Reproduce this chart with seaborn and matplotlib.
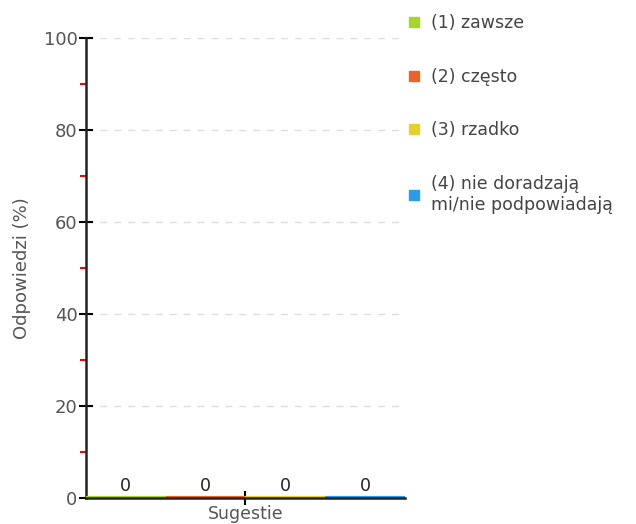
import matplotlib
matplotlib.use('Agg')
import matplotlib.pyplot as plt
import seaborn as sns
import pandas as pd
from matplotlib.ticker import MultipleLocator
from matplotlib.lines import Line2D

# ── Data ─────────────────────────────────────────────
categories = ['(1) zawsze', '(2) często', '(3) rzadko',
              '(4) nie doradzają\nmi/nie podpowiadają']
values = [0, 0, 0, 0]
colors = ['#a8d42a', '#e8622c', '#e6d12c', '#2e9be6']

df = pd.DataFrame({'cat': categories, 'val': values})

sns.set_style('white')
plt.rcParams['font.family'] = ['DejaVu Sans']
TXT = '#555555'

fig = plt.figure(figsize=(6.36, 5.24), dpi=100)
ax = fig.add_axes([0.135, 0.05, 0.502, 0.877])

sns.barplot(data=df, x='cat', y='val', hue='cat', palette=colors,
            width=1.0, dodge=False, legend=False, ax=ax,
            linewidth=3, zorder=3)
for patch, c in zip(ax.patches, colors):
    patch.set_edgecolor(c)

for cont in ax.containers:
    ax.bar_label(cont, fmt='%d', padding=2, fontsize=12.5, color='#222222')

ax.set_xlim(-0.5, 3.5)
ax.set_ylim(0, 100)
ax.yaxis.set_major_locator(MultipleLocator(20))
ax.yaxis.set_minor_locator(MultipleLocator(10))
ax.set_xticks([1.5])
ax.set_xticklabels([''])
ax.tick_params(left=True, bottom=True)
ax.tick_params(axis='y', which='minor', left=True)
ax.tick_params(axis='y', which='major', direction='inout', length=10, width=1.5,
               color='black', labelsize=13, labelcolor=TXT, pad=1)
ax.tick_params(axis='y', which='minor', direction='out', length=4, width=1.5,
               color='red')
ax.tick_params(axis='x', which='major', direction='inout', length=10, width=1.5,
               color='black', pad=0)

ax.yaxis.grid(True, which='major', linestyle=(0, (5, 5)), color='#dddddd', lw=1)
ax.set_axisbelow(True)

for s in ['top', 'right']:
    ax.spines[s].set_visible(False)
ax.spines['left'].set_linewidth(1.8)
ax.spines['bottom'].set_linewidth(1.8)
ax.spines['left'].set_color('#222222')
ax.spines['bottom'].set_color('#222222')
ax.spines['bottom'].set_zorder(5)

ax.set_xlabel('Sugestie', fontsize=12.5, color=TXT, labelpad=0)
ax.set_ylabel('Odpowiedzi (%)', fontsize=13, color=TXT, labelpad=9)

handles = [Line2D([], [], marker='s', color=c, linestyle='', markersize=7)
           for c in colors]
fig.legend(handles, categories, loc='upper left', bbox_to_anchor=(0.61, 1.003),
           frameon=False, fontsize=12.5, labelcolor='#444444',
           labelspacing=2.05, handletextpad=0.4, handlelength=1.2)

plt.savefig('out.png', dpi=100)
plt.close()
